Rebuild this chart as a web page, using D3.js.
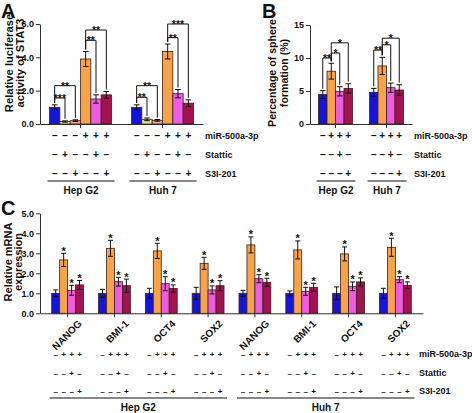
<!DOCTYPE html>
<html><head><meta charset="utf-8">
<script src="https://cdn.jsdelivr.net/npm/d3@7"></script>
<style>
body{margin:0;background:#fff}
text{font-family:"Liberation Sans",Arial,sans-serif;font-weight:bold;fill:#111}
</style>
</head><body>
<svg id="c" width="472" height="413"></svg>
<script>
// ---------- DATA ----------
const palette = ["#1414dc","#e6e88a","#f4a08e","#f7a448","#ee5ce2","#a1124f"];
const rowLabels = ["miR-500a-3p","Stattic","S3I-201"];
const cellLines = ["Hep G2","Huh 7"];

// Panel A
const aTicks = [0,2,4,6];
const aHep = [1.0,0.15,0.2,3.9,1.5,1.75];
const aHepErr = [0.15,0.04,0.05,0.45,0.25,0.2];
const aHuh = [1.0,0.28,0.22,4.35,1.82,1.25];
const aHuhErr = [0.15,0.08,0.05,0.45,0.25,0.2];
const aMiR = ["–","–","–","+","+","+"];
const aStattic = ["–","+","–","–","+","–"];
const aS3I = ["–","–","+","–","–","+"];
const aSig = [
  {g:0,a:0,b:1,y:1.56,t:"***"},{g:0,a:0,b:2,y:2.3,t:"**"},
  {g:0,a:3,b:4,y:5.02,t:"**"},{g:0,a:3,b:5,y:5.64,t:"**"},
  {g:1,a:0,b:1,y:1.6,t:"**"},{g:1,a:0,b:2,y:2.3,t:"**"},
  {g:1,a:3,b:4,y:5.18,t:"**"},{g:1,a:3,b:5,y:6.0,t:"***"}
];

// Panel B
const bTicks = [0,5,10,15];
const bHep = [4.45,8.0,4.95,5.4];
const bHepErr = [0.6,1.2,0.7,0.7];
const bHuh = [4.8,8.8,5.5,5.15];
const bHuhErr = [0.6,1.3,0.7,0.8];
const bMiR = ["–","+","+","+"];
const bStattic = ["–","–","+","–"];
const bS3I = ["–","–","–","+"];
const bSig = [
  {g:0,a:0,b:1,y:10.0,t:"**"},{g:0,a:1,b:2,y:10.75,t:"*"},{g:0,a:1,b:3,y:12.3,t:"*"},
  {g:1,a:0,b:1,y:11.2,t:"**"},{g:1,a:1,b:2,y:12.0,t:"*"},{g:1,a:1,b:3,y:13.0,t:"*"}
];

// Panel C
const cTicks = [0,1,2,3,4,5];
const cGenes = ["NANOG","BMI-1","OCT4","SOX2"];
const cHep = [[1.0,2.67,1.15,1.42],[1.0,3.25,1.58,1.38],[1.0,3.12,1.48,1.24],[1.0,2.5,1.17,1.38]];
const cHepErr = [[0.17,0.33,0.25,0.22],[0.2,0.4,0.22,0.33],[0.25,0.38,0.35,0.18],[0.3,0.3,0.2,0.25]];
const cHuh = [[1.0,3.42,1.73,1.55],[1.0,3.17,1.1,1.3],[1.0,2.97,1.35,1.57],[1.0,3.3,1.68,1.4]];
const cHuhErr = [[0.15,0.4,0.2,0.2],[0.12,0.45,0.2,0.2],[0.32,0.35,0.22,0.2],[0.25,0.45,0.15,0.17]];
const cMiR = ["–","+","+","+"];
const cStattic = ["–","–","+","–"];
const cS3I = ["–","–","–","+"];
const cStars = [1,2,3];

// ---------- DRAWING ----------
const svg = d3.select("#c");
svg.append("rect").attr("width",472).attr("height",413).attr("fill","#fff");

function panel(cfg){
  const g = svg.append("g");
  const y = d3.scaleLinear().domain([0,cfg.yMax]).range([cfg.yBase,cfg.yTop]);
  const xg = d3.scaleBand().domain(d3.range(cfg.means.length)).range([cfg.x0,cfg.x1])
      .paddingInner(cfg.pIn).paddingOuter(cfg.pOut);
  const xi = d3.scaleBand().domain(d3.range(cfg.means[0].length)).range([0,xg.bandwidth()]);
  const cx = (gi,bi)=>xg(gi)+xi(bi)+xi.bandwidth()/2;

  // axes
  const ya = g.append("g").attr("transform",`translate(${cfg.x0},0)`)
    .call(d3.axisLeft(y).tickValues(cfg.ticks).tickSize(4).tickSizeOuter(0).tickPadding(2));
  ya.selectAll("text").style("font-size","9px").attr("fill","#111");
  g.append("g").attr("transform",`translate(0,${cfg.yBase})`)
    .call(d3.axisBottom(xg).tickSize(4).tickSizeOuter(0).tickFormat(()=>""));
  g.selectAll(".domain,.tick line").attr("stroke","#333").attr("stroke-width",1);

  // bars
  cfg.means.forEach((arr,gi)=>{
    arr.forEach((v,bi)=>{
      g.append("rect").attr("x",xg(gi)+xi(bi)).attr("y",y(v))
        .attr("width",xi.bandwidth()).attr("height",y(0)-y(v))
        .attr("fill",palette[cfg.colors[bi]]).attr("stroke","#3a2020").attr("stroke-width",0.8);
      const e = cfg.errs[gi][bi], x = cx(gi,bi), cw = cfg.cap;
      g.append("line").attr("x1",x).attr("x2",x).attr("y1",y(v-e)).attr("y2",y(v+e)).attr("stroke","#111").attr("stroke-width",1);
      [v-e,v+e].forEach(t=>g.append("line").attr("x1",x-cw).attr("x2",x+cw).attr("y1",y(t)).attr("y2",y(t)).attr("stroke","#111").attr("stroke-width",1));
    });
  });

  // significance brackets
  (cfg.sig||[]).forEach(s=>{
    const xa_ = cx(s.g,s.a), xb_ = cx(s.g,s.b), yl = y(s.y);
    const ya_ = y(cfg.means[s.g][s.a]+cfg.errs[s.g][s.a])-2;
    const yb_ = y(cfg.means[s.g][s.b]+cfg.errs[s.g][s.b])-2;
    g.append("path").attr("d",`M${xa_},${ya_}V${yl}H${xb_}V${yb_}`)
      .attr("fill","none").attr("stroke","#111").attr("stroke-width",1);
    g.append("text").attr("x",(xa_+xb_)/2).attr("y",yl+4).attr("text-anchor","middle")
      .style("font-size","10.5px").text(s.t);
  });

  // stars (panel C)
  if(cfg.stars){
    cfg.means.forEach((arr,gi)=>cfg.stars.forEach(bi=>{
      g.append("text").attr("x",cx(gi,bi)).attr("y",y(arr[bi]+cfg.errs[gi][bi])+1.5)
        .attr("text-anchor","middle").style("font-size","11px").text("*");
    }));
  }

  // category labels (rotated)
  if(cfg.catLabels){
    cfg.catLabels.forEach((l,gi)=>{
      const tx = xg(gi)+xg.bandwidth()/2+15, ty = cfg.yBase+11;
      g.append("text").attr("transform",`translate(${tx},${ty}) rotate(-45)`)
        .attr("text-anchor","end").style("font-size","10px").text(l);
    });
  }

  // sign rows
  cfg.rows.forEach((row,ri)=>{
    cfg.means.forEach((arr,gi)=>row.forEach((s,bi)=>{
      g.append("text").attr("x",cx(gi,bi)).attr("y",cfg.rowY[ri]).attr("text-anchor","middle")
        .style("font-size",cfg.signSize+"px").text(s);
    }));
    g.append("text").attr("x",cfg.rowLabelX).attr("y",cfg.rowY[ri]).style("font-size","9px").text(rowLabels[ri]);
  });

  // group underlines
  cfg.underlines.forEach(u=>{
    const xs = xg(u.from)+xi(0)-2, xe = xg(u.to)+xg.bandwidth()+3;
    g.append("line").attr("x1",xs).attr("x2",xe).attr("y1",cfg.lineY).attr("y2",cfg.lineY).attr("stroke","#111").attr("stroke-width",1.2);
    g.append("text").attr("x",(xs+xe)/2).attr("y",cfg.lineY+13).attr("text-anchor","middle").style("font-size","10px").text(u.label);
  });

  // y title
  cfg.yTitle.forEach((t,i)=>{
    g.append("text").attr("transform",`translate(${cfg.yTitleX[i]},${cfg.yTitleY}) rotate(-90)`)
      .attr("text-anchor","middle").style("font-size",cfg.yTitleSize+"px").text(t);
  });
}

panel({
  x0:40,x1:203,yBase:124,yTop:24,yMax:6,ticks:aTicks,
  means:[aHep,aHuh],errs:[aHepErr,aHuhErr],colors:[0,1,2,3,4,5],
  pIn:0.244,pOut:0.116,cap:2.8,sig:aSig,
  rows:[aMiR,aStattic,aS3I],rowY:[139,158,176.5],rowLabelX:205,signSize:10,
  lineY:181,underlines:[{from:0,to:0,label:cellLines[0]},{from:1,to:1,label:cellLines[1]}],
  yTitle:["Relative luciferase","activity of STAT3"],yTitleX:[13,23.5],yTitleY:63,yTitleSize:11.2
});

panel({
  x0:310,x1:412,yBase:124,yTop:25,yMax:15,ticks:bTicks,
  means:[bHep,bHuh],errs:[bHepErr,bHuhErr],colors:[0,3,4,5],
  pIn:0.333,pOut:0.167,cap:2.8,sig:bSig,
  rows:[bMiR,bStattic,bS3I],rowY:[139,158,176.5],rowLabelX:414,signSize:10,
  lineY:181,underlines:[{from:0,to:0,label:cellLines[0]},{from:1,to:1,label:cellLines[1]}],
  yTitle:["Percentage of sphere","formation (%)"],yTitleX:[275.5,287.5],yTitleY:73,yTitleSize:10.6
});

panel({
  x0:40,x1:423,yBase:313.3,yTop:213.3,yMax:5,ticks:cTicks,
  means:cHep.concat(cHuh),errs:cHepErr.concat(cHuhErr),colors:[0,3,4,5],
  pIn:0.32,pOut:0.25,cap:2.5,stars:cStars,
  catLabels:cGenes.concat(cGenes),
  rows:[cMiR,cStattic,cS3I],rowY:[357,376,394],rowLabelX:419,signSize:8,
  lineY:398,underlines:[{from:0,to:3,label:cellLines[0]},{from:4,to:7,label:cellLines[1]}],
  yTitle:["Relative mRNA","expression"],yTitleX:[12,21.5],yTitleY:262,yTitleSize:11
});

// panel letters
[["A",1,18],["B",262,18],["C",1,215]].forEach(([t,x,y])=>{
  svg.append("text").attr("x",x).attr("y",y).style("font-size","20px").text(t);
});
</script>
</body></html>
